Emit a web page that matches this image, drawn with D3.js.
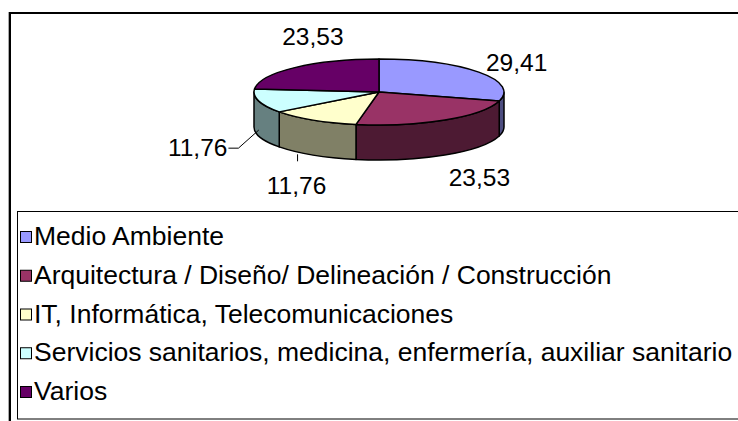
<!DOCTYPE html>
<html>
<head>
<meta charset="utf-8">
<script src="https://cdn.jsdelivr.net/npm/d3@7"></script>
<style>
  body { margin: 0; background: #fff; }
  svg { display: block; font-family: "Liberation Sans", Arial, sans-serif; }
</style>
</head>
<body>
<div id="chart"></div>
<script>
// data
var categories = [
    "Medio Ambiente",
    "Arquitectura / Diseño/ Delineación / Construcción",
    "IT, Informática, Telecomunicaciones",
    "Servicios sanitarios, medicina, enfermería, auxiliar sanitario",
    "Varios"
];
var values = [29.41, 23.53, 11.76, 11.76, 23.53];
var colors = ["#9999FF", "#993366", "#FFFFCC", "#CCFFFF", "#660066"];

var width = 738;
var height = 421;

// pie geometry (3d look, tilted ellipse)
var cx = 379, cy = 92, rx = 125, ry = 33, depth = 35;

// label placement tweaks (excel puts them a bit everywhere)
var labelNudge = [[-7, 8], [5, -3], [13, 5], [-7, 3], [56, -9]];

var es = d3.formatLocale({decimal: ",", thousands: ".", grouping: [3], currency: ["", "€"]});
var fmt = es.format(".2f");

var svg = d3.select("#chart")
    .append("svg")
    .attr("width", width)
    .attr("height", height);

//outer frame
svg.append("rect")
    .attr("x", 8.5).attr("y", 12.5)
    .attr("width", 800).attr("height", 500)
    .attr("fill", "none")
    .attr("stroke", "#aaa")
    .attr("stroke-width", 1);
svg.append("rect")
    .attr("x", 10).attr("y", 13)
    .attr("width", 800).attr("height", 500)
    .attr("fill", "none")
    .attr("stroke", "black")
    .attr("stroke-width", 2);

var pie = d3.pie().sort(null).value(d => d);
var arcs = pie(values);

function pt(a, dy) {
    return [cx + rx * Math.sin(a), cy - ry * Math.cos(a) + (dy || 0)];
}

var sideColor = c => {
    var r = d3.rgb(c);
    return d3.rgb(r.r / 2, r.g / 2, r.b / 2);
};

var g = svg.append("g");

//side walls, only the front half is seen
var lo = Math.PI / 2, hi = Math.PI * 3 / 2;
arcs.forEach((d, i) => {
    var s = Math.max(d.startAngle, lo);
    var e = Math.min(d.endAngle, hi);
    if (e <= s) return;
    var p0 = pt(s), p1 = pt(e), p2 = pt(e, depth), p3 = pt(s, depth);
    var large = (e - s) > Math.PI ? 1 : 0;
    var path = "M" + p0 + "A" + rx + "," + ry + " 0 " + large + " 1 " + p1 +
        "L" + p2 + "A" + rx + "," + ry + " 0 " + large + " 0 " + p3 + "Z";
    g.append("path")
        .attr("d", path)
        .attr("fill", sideColor(colors[i]))
        .attr("stroke", "black")
        .attr("stroke-width", 1.5)
        .attr("stroke-linejoin", "round");
});

//top faces
g.selectAll(".slice")
    .data(arcs)
    .enter().append("path")
    .attr("class", "slice")
    .attr("d", d => {
        var p0 = pt(d.startAngle), p1 = pt(d.endAngle);
        var large = (d.endAngle - d.startAngle) > Math.PI ? 1 : 0;
        return "M" + cx + "," + cy + "L" + p0 + "A" + rx + "," + ry + " 0 " + large + " 1 " + p1 + "Z";
    })
    .attr("fill", (d, i) => colors[i])
    .attr("stroke", "black")
    .attr("stroke-width", 1.5)
    .attr("stroke-linejoin", "round");

//value labels
var labelSize = 24.5;
arcs.forEach((d, i) => {
    var mid = (d.startAngle + d.endAngle) / 2;
    var front = Math.cos(mid) < 0;
    var x = cx + 1.45 * rx * Math.sin(mid) + labelNudge[i][0];
    var y = cy - 1.9 * ry * Math.cos(mid) + (front ? depth : 0) + labelNudge[i][1];
    var t = svg.append("text")
        .attr("x", x)
        .attr("y", y + labelSize * 0.36)
        .attr("text-anchor", "middle")
        .style("font-size", labelSize + "px")
        .text(fmt(d.data));
    var w = t.node().getComputedTextLength();

    //leader lines for the small slices
    if (i == 3) {
        var b = pt(mid, depth - 6);
        svg.append("polyline")
            .attr("points", [b, [x + w / 2 + 11, y + 1], [x + w / 2 + 1, y + 1]].join(" "))
            .attr("fill", "none").attr("stroke", "black").attr("stroke-width", 1);
    }
    if (i == 2) {
        var bx = x + 1;
        svg.append("line")
            .attr("x1", bx).attr("y1", y - 31)
            .attr("x2", bx).attr("y2", y - 24)
            .attr("stroke", "black").attr("stroke-width", 1);
    }
});

//legend
var legendTop = 211;
var legend = svg.append("g");
legend.append("rect")
    .attr("x", 17.5).attr("y", legendTop + 0.5)
    .attr("width", 800).attr("height", 207.5)
    .attr("fill", "white")
    .attr("stroke", "black")
    .attr("stroke-width", 1);

var rowY = d3.scalePoint()
    .domain(d3.range(categories.length))
    .range([236, 391]);

var item = legend.selectAll(".item")
    .data(categories)
    .enter().append("g")
    .attr("class", "item")
    .attr("transform", (d, i) => "translate(0," + rowY(i) + ")");

item.append("rect")
    .attr("x", 20.5).attr("y", -4.5)
    .attr("width", 11).attr("height", 11)
    .attr("fill", (d, i) => colors[i])
    .attr("stroke", "black")
    .attr("stroke-width", 1);

item.append("text")
    .attr("x", 34)
    .attr("y", 9)
    .style("font-size", "26.5px")
    .text(d => d);
</script>
</body>
</html>
